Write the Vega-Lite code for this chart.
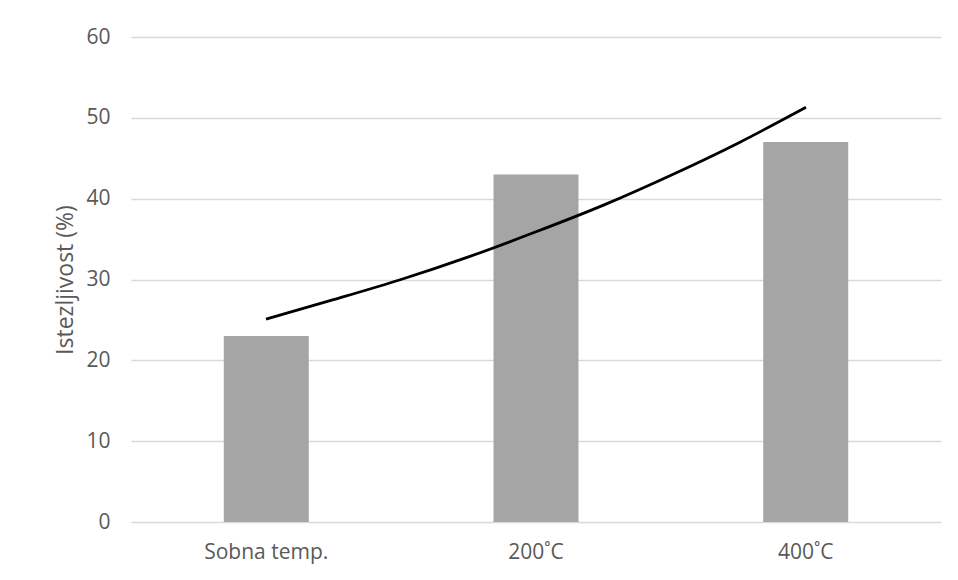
{
  "$schema": "https://vega.github.io/schema/vega-lite/v6.json",
  "autosize": "none",
  "width": 810,
  "height": 485,
  "padding": {"left": 131, "top": 37, "right": 17, "bottom": 58},
  "background": "white",
  "config": {
    "view": {"stroke": null},
    "font": "Open Sans"
  },
  "datasets": {
    "bars": [
      {"kategorija": "Sobna temp.", "istezljivost": 23},
      {"kategorija": "200˚C", "istezljivost": 43},
      {"kategorija": "400˚C", "istezljivost": 47}
    ],
    "trend": [
      {"t": 0.5, "v": 25.1},
      {"t": 0.75, "v": 27.5},
      {"t": 1.0, "v": 30.0},
      {"t": 1.25, "v": 32.8},
      {"t": 1.5, "v": 35.9},
      {"t": 1.75, "v": 39.2},
      {"t": 2.0, "v": 42.9},
      {"t": 2.25, "v": 46.9},
      {"t": 2.5, "v": 51.3}
    ]
  },
  "layer": [
    {
      "data": {"name": "bars"},
      "mark": {"type": "bar", "color": "#a5a5a5"},
      "encoding": {
        "x": {
          "field": "kategorija",
          "type": "nominal",
          "sort": null,
          "scale": {"paddingInner": 0.685, "paddingOuter": 0.344},
          "axis": {
            "title": null,
            "labelAngle": 0,
            "labelFontSize": 21,
            "labelColor": "#595959",
            "labelPadding": 19,
            "domain": false,
            "ticks": false
          }
        },
        "y": {
          "field": "istezljivost",
          "type": "quantitative",
          "scale": {"domain": [0, 60], "nice": false},
          "axis": {
            "title": "Istezljivost (%)",
            "titleFontSize": 23,
            "titleFontWeight": "normal",
            "titleColor": "#595959",
            "titlePadding": 8,
            "values": [0, 10, 20, 30, 40, 50, 60],
            "labelFontSize": 21,
            "labelColor": "#595959",
            "labelPadding": 21,
            "domain": false,
            "ticks": false,
            "grid": true,
            "gridColor": "#d9d9d9",
            "gridWidth": 1.3
          }
        }
      }
    },
    {
      "data": {"name": "trend"},
      "mark": {"type": "line", "color": "black", "strokeWidth": 2.8, "interpolate": "monotone"},
      "encoding": {
        "x": {"field": "t", "type": "quantitative", "scale": {"domain": [0, 3], "nice": false, "zero": false}, "axis": null},
        "y": {"field": "v", "type": "quantitative"}
      }
    }
  ],
  "resolve": {"scale": {"x": "independent"}}
}
